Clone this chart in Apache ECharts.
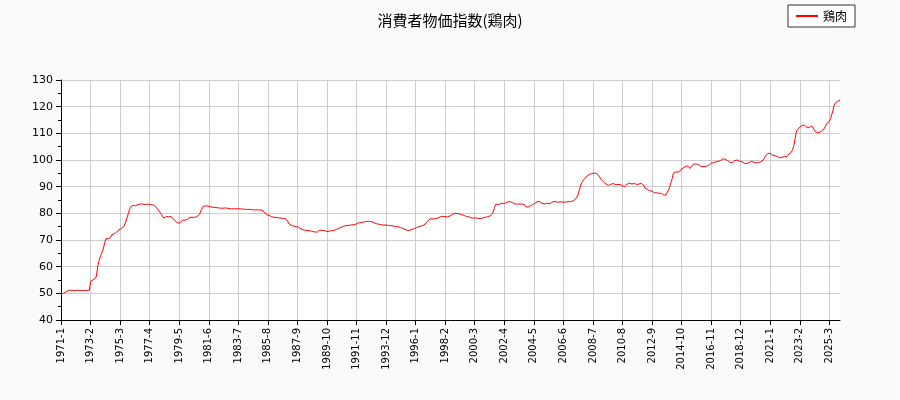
<!DOCTYPE html>
<html><head><meta charset="utf-8">
<script src="https://cdn.jsdelivr.net/npm/echarts@6/dist/echarts.min.js"></script>
<style>html,body{margin:0;padding:0;background:#fafafa}#c{width:900px;height:400px}</style>
</head><body><div id="c"></div>
<script>
const seriesName = '鶏肉';
const titleText = '消費者物価指数(鶏肉)';
const startYear = 1971, startMonth = 1;
const values = [
49.5,49.8,50,50.3,50.5,50.8,51,51,51.2,51.2,51,51,51,51.1,51.2,51,51,50.9,51,51.1,51,51,51,51,51.2,
54.5,55,55,55.2,55.6,56.5,60,62,63.5,64.5,65,67,69,70.5,71,70.5,70,71,72,72.3,72.3,72.5,73,73.5,73.8,
74,74.3,74.5,75,76,77,78.5,80,81.5,82.5,83,83,83,82.8,82.8,83.3,83.5,83.5,83.3,83.5,83.2,83.3,83.5,83.5,83.4,
83.3,83.3,83.2,83,83,82.8,82,81.3,80.8,80.3,79.5,78.8,78.2,78,78.8,79,78.7,78.5,78.8,78.5,78,77.5,77,76.5,76.3,
76.3,76.5,77,77.5,77.5,77.4,77.5,77.8,78.3,78.5,78.3,78.5,78.5,78.5,78.7,78.8,79.2,79.5,80.5,81.5,82.5,83,82.8,82.8,82.8,
82.6,82.5,82.4,82.3,82.2,82.2,82.1,82.1,82,82,82.1,81.9,81.9,82,82,82,81.8,81.8,81.7,81.7,81.7,81.7,81.7,81.7,81.7,
81.7,81.7,81.7,81.6,81.6,81.6,81.5,81.5,81.5,81.5,81.5,81.5,81.3,81.3,81.3,81.3,81.3,81.3,81.3,81.2,81.2,81,80.5,80,79.5,
79.3,79.2,79,78.8,78.6,78.5,78.5,78.5,78.4,78.3,78.2,78.2,78.2,78.1,78,78,77.5,76.8,76,75.8,75.5,75.3,75.2,75,75,
75,74.8,74.5,74.2,74,73.8,73.7,73.6,73.5,73.5,73.5,73.4,73.3,73.2,73.1,73,73,73,73.5,73.7,73.6,73.6,73.5,73.5,73.4,
73.2,73.1,73.3,73.4,73.5,73.5,73.6,73.8,74,74.1,74.3,74.5,74.8,75.1,75.2,75.3,75.4,75.5,75.5,75.5,75.6,75.6,75.7,75.8,75.8,
76,76.3,76.4,76.5,76.6,76.7,76.8,76.8,76.9,77,77,77,76.9,76.8,76.6,76.4,76.3,76.1,76,75.9,75.8,75.7,75.7,75.6,75.6,
75.6,75.5,75.5,75.5,75.4,75.4,75.3,75.2,75,75,75,74.9,74.7,74.5,74.4,74.2,74,73.8,73.6,73.5,73.6,73.8,74,74.2,74.3,
74.5,74.7,74.9,75,75.1,75.3,75.5,75.6,75.8,76.5,77,77.5,78,78,78,77.9,78,78,78.1,78.3,78.5,78.7,79,78.9,78.8,
78.7,78.6,78.7,78.8,79,79.3,79.6,79.9,80,80,79.9,80,79.8,79.7,79.5,79.3,79.2,79,78.8,79,78.7,78.5,78.3,78.2,78.2,
78.2,78.3,78.3,78.1,78,78,78.2,78.3,78.5,78.5,78.7,78.8,79,79,79.3,79.8,80.5,82.5,83.5,83.2,83.3,83.5,83.6,83.7,83.7,
83.7,83.8,84,84.3,84.5,84.4,84.3,84,83.8,83.5,83.4,83.5,83.5,83.5,83.4,83.5,83.4,83.3,82.5,82,82.3,82.5,82.8,83,83.2,
83.5,83.8,84,84.4,84.5,84.4,84,83.7,83.5,83.5,83.6,83.8,83.7,83.6,83.8,84,84.2,84.5,84.4,84.3,84.3,84.2,84.3,84.3,84.2,
84.2,84.3,84.2,84.3,84.4,84.3,84.4,84.5,84.6,84.8,85.2,85.8,86.5,88,89.5,91,91.8,92.5,93,93.5,94,94.3,94.6,94.8,94.9,
95,95.1,95.2,95,94.5,94,93.3,92.7,92.2,91.8,91.3,91,90.7,90.5,90.5,90.8,91,91.2,91,90.8,91,90.8,91,90.8,90.5,
90.3,90,90,90.5,91,91.5,91.3,91,91,91,91.2,91,90.8,91,91,91,91.2,91.3,90.5,89.5,89.2,89,88.7,88.5,88.5,
88.3,88,87.7,87.5,87.7,87.5,87.5,87.3,87.5,87.2,86.8,86.5,87,88,88.8,90,91.5,93,95,95.5,95.5,95.3,95.5,95.7,96,
96.5,97,97.2,97.5,97.5,97.8,97.3,96.8,97,98,98.5,98.5,98.6,98.5,98.2,98,97.7,97.5,97.6,97.5,97.8,97.7,97.8,98,98.5,
98.8,99,99,99.2,99.3,99.5,99.5,99.6,99.8,100.3,100.5,100.4,100.2,100,99.8,99.5,99,98.7,99,99.5,99.8,100,100,99.8,99.5,
99.5,99.4,99.2,98.8,98.5,98.7,98.9,99,98.8,99.5,99.8,99.2,98.5,98.9,99.3,99,99.2,99.3,99.5,100,100.5,101.5,102,102.5,103,
102.5,102,101.8,101.5,101.6,101.5,101.3,101.2,100.8,100.5,101,101.5,101.3,101,101.2,101.8,102.3,102.5,103,104,105.5,108,110.5,111.5,112,
112.3,112.8,113,112.7,113,112.8,112.3,112,112.2,112.5,112.8,112.3,111.5,110.7,110.5,110.2,110,110.5,110.8,111,111.3,112,113,113.8,114.3,
114.5,115.5,117,118.5,120.5,121.3,121.8,122,122.2,122.5
];
const categories = values.map((v,i)=>{const m=startMonth-1+i;return (startYear+Math.floor(m/12))+'-'+(m%12+1);});
const chart = echarts.init(document.getElementById('c'));
const font = 'DejaVu Sans';
chart.setOption({
  backgroundColor:'#fafafa',
  animation:false,
  title:{text:titleText,left:'center',top:8,textStyle:{fontFamily:'Noto Sans CJK JP',fontSize:15,fontWeight:'normal',color:'#000'}},
  legend:{right:45,top:5,itemWidth:22,itemHeight:2,borderColor:'#333',borderWidth:1,borderRadius:0,padding:[5,8],backgroundColor:'#fff',
    textStyle:{fontFamily:'Noto Sans CJK JP',fontSize:12,color:'#000'},data:[{name:seriesName,icon:'rect'}]},
  grid:{left:61,right:60,top:80,bottom:80,show:true,backgroundColor:'#fff',borderWidth:0},
  xAxis:{type:'category',data:categories,boundaryGap:false,
    axisLine:{lineStyle:{color:'#000'}},
    axisTick:{interval:24,lineStyle:{color:'#000'}},
    axisLabel:{interval:24,rotate:90,fontFamily:font,fontSize:10,color:'#000'},
    splitLine:{show:true,interval:24,lineStyle:{color:'#ccc'}}},
  yAxis:{type:'value',min:40,max:130,interval:10,
    axisLine:{show:true,lineStyle:{color:'#000'}},
    axisTick:{show:true,lineStyle:{color:'#000'}},
    minorTick:{show:true,splitNumber:2,lineStyle:{color:'#000'}},
    axisLabel:{fontFamily:font,fontSize:11,color:'#000'},
    splitLine:{lineStyle:{color:'#ccc'}}},
  series:[{name:seriesName,type:'line',data:values,showSymbol:false,lineStyle:{color:'#ff0000',width:1},itemStyle:{color:'#ff0000'}}]
});
</script></body></html>
